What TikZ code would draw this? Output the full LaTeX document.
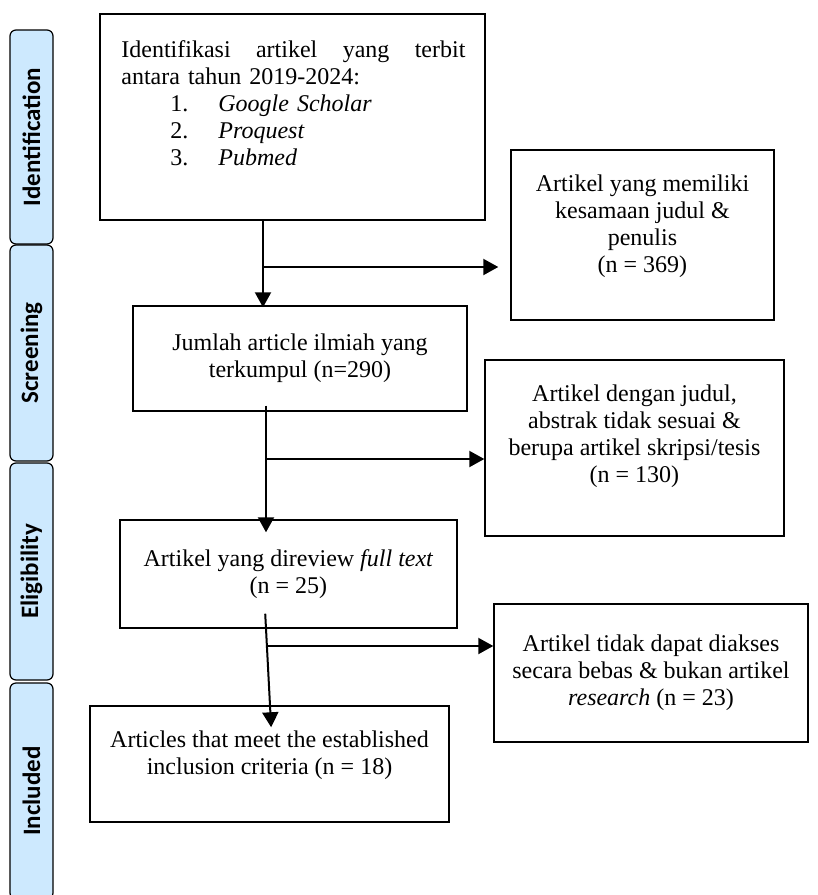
\documentclass[tikz,border=0pt]{standalone}
\usepackage{fontspec}
\setmainfont{Liberation Serif}
\newfontfamily\phasefont{Carlito}
\usetikzlibrary{arrows.meta}
\definecolor{phaseblue}{RGB}{205,233,254}

\begin{document}
\begin{tikzpicture}[%
    x=0.5pt, y=-0.5pt,
    >={Triangle[length=7.5pt,width=8pt]},
    box/.style={draw, line width=0.7pt, inner sep=0pt, align=center,
      font=\fontsize{12}{13.5}\selectfont},
    phase/.style={draw, line width=0.6pt, fill=phaseblue, rounded corners=3pt,
      rotate=90, inner sep=0pt, minimum height=21.5pt,
      font=\phasefont\bfseries\fontsize{12.5}{14}\selectfont},
    flow/.style={->, line width=1pt},
  ]
    \useasboundingbox (0,0) rectangle (818,895);
    \clip (0,0) rectangle (818,895);

    % phases on the left
    \node[phase, minimum width=107pt]   (idf) at (31.5,137)   {Identification};
    \node[phase, minimum width=108pt]   (scr) at (31.5,353)   {Screening};
    \node[phase, minimum width=108.5pt] (elg) at (31.5,571.5) {Eligibility};
    \node[phase, minimum width=108pt]   (inc) at (31.5,791)   {Included};

    % boxes
    \node[box, minimum width=192.5pt, minimum height=103pt] (search) at (292.5,117) {};
    \node[anchor=north west, inner sep=0pt, text width=172pt, align=left,
      font=\fontsize{12}{13.5}\selectfont] (searchtxt) at (121,40.5)
      {\makebox[172pt][l]{Identifikasi\hfill artikel\hfill yang\hfill terbit}\\
       antara tahun 2019-2024:\\
       \hspace*{24.5pt}\makebox[24pt][l]{1.}\textit{Google Scholar}\\
       \hspace*{24.5pt}\makebox[24pt][l]{2.}\textit{Proquest}\\
       \hspace*{24.5pt}\makebox[24pt][l]{3.}\textit{Pubmed}};
    \node[box, minimum width=131.5pt, minimum height=85pt] (dup) at (642.5,235)
      {Artikel yang memiliki\\kesamaan judul \&\\penulis\\(n = 369)\\[-2pt]};
    \node[box, minimum width=167pt, minimum height=52.5pt] (pool) at (300,358.5)
      {Jumlah article ilmiah yang\\terkumpul (n=290)};
    \node[box, minimum width=149.5pt, minimum height=88pt] (excla) at (634.5,448)
      {Artikel dengan judul,\\abstrak tidak sesuai \&\\berupa artikel skripsi/tesis\\(n = 130)\\[1pt]};
    \node[box, minimum width=168.5pt, minimum height=54pt] (full) at (288.5,574)
      {Artikel yang direview \textit{full text}\\(n = 25)};
    \node[box, minimum width=157pt, minimum height=69pt] (exclb) at (651,673)
      {Artikel tidak dapat diakses\\secara bebas \& bukan artikel\\\textit{research} (n = 23)};
    \node[box, minimum width=179.5pt, minimum height=58pt] (final) at (269.5,764)
      {Articles that meet the established\\inclusion criteria (n = 18)\\[-2pt]};

    % connectors
    \coordinate (j1) at (263,267);
    \coordinate (j2) at (266,459);
    \coordinate (j3) at (267,646);
    \draw[flow, shorten >=-1pt] (j1 |- search.south) -- (j1 |- pool.north);
    \draw[flow, shorten >=6pt] (j1) -- (j1 -| dup.west);
    \draw[flow, shorten <=-3pt, shorten >=-6.5pt] (j2 |- pool.south) -- (j2 |- full.north);
    \draw[flow] (j2) -- (j2 -| excla.west);
    \draw[flow, shorten <=-7.5pt, shorten >=-11pt] ([xshift=-0.5pt]j3 |- full.south) -- ([xshift=1.5pt]j3 |- final.north);
    \draw[flow] (j3) -- (j3 -| exclb.west);
  \end{tikzpicture}
\end{document}
